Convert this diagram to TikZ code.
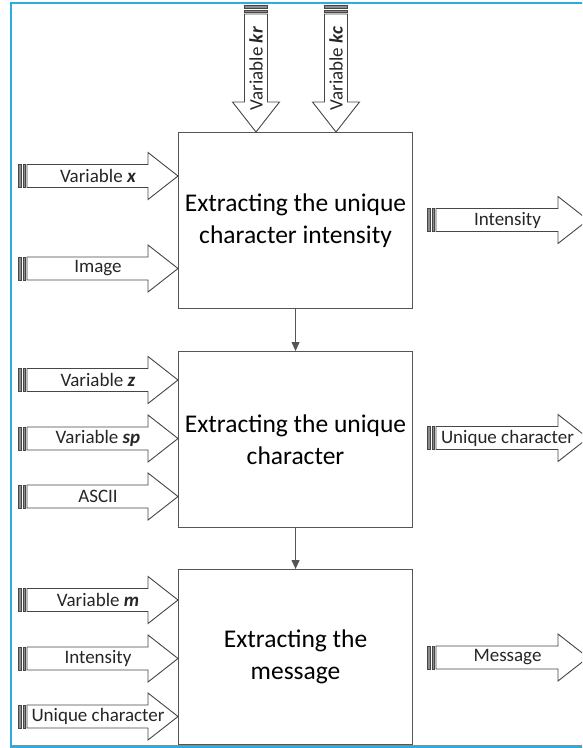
\documentclass[tikz,border=0pt]{standalone}
\usepackage{fontspec}
\setmainfont{Carlito}
\usetikzlibrary{arrows.meta}
\definecolor{framebl}{RGB}{45,172,228}
\definecolor{arrowedge}{RGB}{70,70,70}
\definecolor{boxedge}{RGB}{85,85,85}

\tikzset{
  arrowline/.style={draw=arrowedge, fill=white, line width=0.9pt, line join=miter},
  stripe/.style={draw=arrowedge, fill=black!45, line width=0.8pt},
  lbl/.style={font=\fontsize{19}{22}\selectfont, text=black!85, inner sep=0pt},
  procbox/.style={draw=boxedge, line width=1.1pt, fill=white, minimum width=234pt,
    minimum height=176pt, anchor=north west, align=center, inner sep=0pt,
    font=\fontsize{25.5}{32}\selectfont},
  conn/.style={draw=boxedge, line width=1pt, -{Triangle[length=9pt,width=8pt]}},
}

% striped block arrow: #1 transform, #2 start point, #3 length, #4 name of its mid point
\newcommand{\blockarrow}[4][]{%
  \begin{scope}[shift={#2},#1]
    \draw[arrowline] (9,-11.5) -- ({#3-30},-11.5) -- ({#3-30},-23.5) -- (#3,0)
      -- ({#3-30},23.5) -- ({#3-30},11.5) -- (9,11.5) -- cycle;
    \draw[stripe] (0.5,-11.5) rectangle (3.5,11.5);
    \draw[stripe] (5,-11.5) rectangle (7.5,11.5);
    \coordinate (#4) at ({#3/2},0);
  \end{scope}}

\begin{document}
\begin{tikzpicture}[x=1pt,y=-1pt]
  \useasboundingbox (0,0) rectangle (582,748);
  \clip (0,0) rectangle (582,748);

  % outer frame
  \draw[framebl, line width=2.5pt] (11,3) rectangle (620,746.5);

  % processing blocks
  \node[procbox] (b1) at (178,132) {Extracting the unique\\character intensity};
  \node[procbox] (b2) at (178,351) {Extracting the unique\\character};
  \node[procbox, minimum height=175pt] (b3) at (178,569) {Extracting the\\message};

  \draw[conn] (b1.south) -- (b2.north);
  \draw[conn] (b2.south) -- (b3.north);

  % inputs from above
  \blockarrow[rotate=-90]{(256,5)}{127}{akr}
  \blockarrow[rotate=-90]{(336,5)}{127}{akc}
  \node[lbl, rotate=90] (tkr) at (akr) {Variable \textbf{\textit{kr}}};
  \node[lbl, rotate=90] (tkc) at (akc) {Variable \textbf{\textit{kc}}};

  % inputs of the first block
  \blockarrow{(18,176)}{160}{ax}
  \blockarrow{(18,268.5)}{160}{aimg}
  \node[lbl] (tx) at (ax) {Variable \textbf{\textit{x}}};
  \node[lbl] (timg) at (aimg) {Image};

  % inputs of the second block
  \blockarrow{(18,380)}{160}{az}
  \blockarrow{(18,438.5)}{160}{asp}
  \blockarrow{(18,496.5)}{160}{aascii}
  \node[lbl] (tz) at (az) {Variable \textbf{\textit{z}}};
  \node[lbl] (tsp) at (asp) {Variable \textbf{\textit{sp}}};
  \node[lbl] (tascii) at (aascii) {ASCII};

  % inputs of the third block
  \blockarrow{(18,600)}{160}{am}
  \blockarrow{(18,658.5)}{160}{aint}
  \blockarrow{(18,716.5)}{160}{auc}
  \node[lbl] (tm) at (am) {Variable \textbf{\textit{m}}};
  \node[lbl] (tint) at (aint) {Intensity};
  \node[lbl] (tuc) at (auc) {Unique character};

  % outputs
  \blockarrow{(427,220)}{161}{oint}
  \blockarrow{(427,438)}{161}{ouc}
  \blockarrow{(427,657.5)}{161}{omsg}
  \node[lbl] (toint) at (oint) {Intensity};
  \node[lbl] (touc) at (ouc) {Unique character};
  \node[lbl] (tomsg) at (omsg) {Message};
\end{tikzpicture}
\end{document}
